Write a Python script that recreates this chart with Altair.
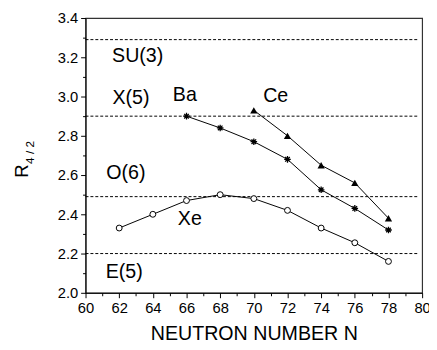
import altair as alt
import pandas as pd

# ---- data ----
xe_n = [62, 64, 66, 68, 70, 72, 74, 76, 78]
xe_r = [2.33, 2.40, 2.47, 2.50, 2.48, 2.42, 2.33, 2.255, 2.16]
ba_n = [66, 68, 70, 72, 74, 76, 78]
ba_r = [2.90, 2.84, 2.77, 2.68, 2.525, 2.43, 2.32]
ce_n = [70, 72, 74, 76, 78]
ce_r = [2.93, 2.80, 2.65, 2.56, 2.38]

ref_names = ["SU(3)", "X(5)", "O(6)", "E(5)"]
ref_values = [3.29, 2.90, 2.49, 2.20]
ref_start = 60
ref_end = 79.8

label_text = ["SU(3)", "X(5)", "Ba", "Ce", "O(6)", "Xe", "E(5)"]
label_n = [63.1, 62.7, 65.9, 71.3, 62.4, 66.2, 62.3]
label_r = [3.205, 2.99, 3.005, 3.0, 2.61, 2.375, 2.107]

x_ticks = list(range(60, 81))
y_ticks = [round(2.0 + 0.1 * i, 1) for i in range(15)]

x_title = "NEUTRON NUMBER N"

# ---- tables ----
series = pd.DataFrame(
    {"n": xe_n + ba_n + ce_n,
     "r": xe_r + ba_r + ce_r,
     "el": ["Xe"] * len(xe_n) + ["Ba"] * len(ba_n) + ["Ce"] * len(ce_n)}
)
refs = pd.DataFrame({"name": ref_names, "r": ref_values,
                     "x0": [ref_start] * 4, "x1": [ref_end] * 4})
labels = pd.DataFrame({"t": label_text, "n": label_n, "r": label_r})

FONT = "Liberation Sans"

xscale = alt.Scale(domain=[60, 80], nice=False, zero=False)
yscale = alt.Scale(domain=[2.0, 3.4], nice=False, zero=False)

xaxis = alt.Axis(
    values=x_ticks, title=x_title, grid=False,
    labelExpr="datum.value % 2 == 0 ? datum.label : ''",
    tickSize={"condition": {"test": "datum.value % 2 == 0", "value": 5}, "value": 3},
    labelFontSize=15, titleFontSize=20, titleFontWeight="normal",
    labelPadding=3, titlePadding=9, labelFlush=False, labelOverlap=False,
)
yaxis = alt.Axis(
    values=y_ticks, title="", grid=False, format=".1f",
    labelExpr="round(datum.value * 10) % 2 == 0 ? datum.label : ''",
    tickSize={"condition": {"test": "round(datum.value * 10) % 2 == 0", "value": 5}, "value": 3},
    labelFontSize=15, labelPadding=3, labelFlush=False, labelOverlap=False,
)


def X(field):
    return alt.X(field, type="quantitative", scale=xscale, axis=xaxis)


def Y(field):
    return alt.Y(field, type="quantitative", scale=yscale, axis=yaxis)


ref_layer = alt.Chart(refs).mark_rule(
    color="black", strokeWidth=1, strokeDash=[3, 2]
).encode(x=X("x0"), x2="x1", y=Y("r"))

lines = alt.Chart(series).mark_line(color="black", strokeWidth=1).encode(
    x=X("n"), y=Y("r"), detail="el:N"
)

xe_pts = alt.Chart(series).transform_filter("datum.el == 'Xe'").mark_point(
    shape="circle", filled=True, fill="white", stroke="black", strokeWidth=1,
    size=36, opacity=1
).encode(x=X("n"), y=Y("r"))

ba_pts = alt.Chart(series).transform_filter("datum.el == 'Ba'").mark_point(
    shape="M-1,0L1,0M0,-1L0,1M-0.7,-0.7L0.7,0.7M-0.7,0.7L0.7,-0.7",
    filled=False, stroke="black", strokeWidth=1.3, size=45, opacity=1
).encode(x=X("n"), y=Y("r"))

ce_pts = alt.Chart(series).transform_filter("datum.el == 'Ce'").mark_point(
    shape="triangle-up", filled=True, fill="black", size=55, opacity=1
).encode(x=X("n"), y=Y("r"))

text_layer = alt.Chart(labels).mark_text(
    font=FONT, fontSize=20, color="black", align="center", baseline="middle"
).encode(x=X("n"), y=Y("r"), text="t:N")

ytitle_main = alt.Chart(pd.DataFrame({"t": ["R"]})).mark_text(
    font=FONT, fontSize=19, color="black", angle=270, align="center", baseline="middle"
).encode(x=alt.value(-65), y=alt.value(156), text="t:N")

ytitle_sub = alt.Chart(pd.DataFrame({"t": ["4 / 2"]})).mark_text(
    font=FONT, fontSize=12, color="black", angle=270, align="center", baseline="middle"
).encode(x=alt.value(-57), y=alt.value(137), text="t:N")

chart = alt.layer(
    ref_layer, lines, xe_pts, ba_pts, ce_pts, text_layer, ytitle_main, ytitle_sub
).properties(
    width=343, height=280,
    padding={"left": 79, "top": 7, "right": 7, "bottom": 52},
    autosize=alt.AutoSizeParams(type="none"),
).configure_view(
    stroke="#333", strokeWidth=1.2
).configure_axis(
    labelFont=FONT, titleFont=FONT, labelColor="black", titleColor="black",
    domainColor="black", tickColor="black", domainWidth=1, tickWidth=1
)

chart.save("out.html", embed_options={"renderer": "svg", "actions": False})
